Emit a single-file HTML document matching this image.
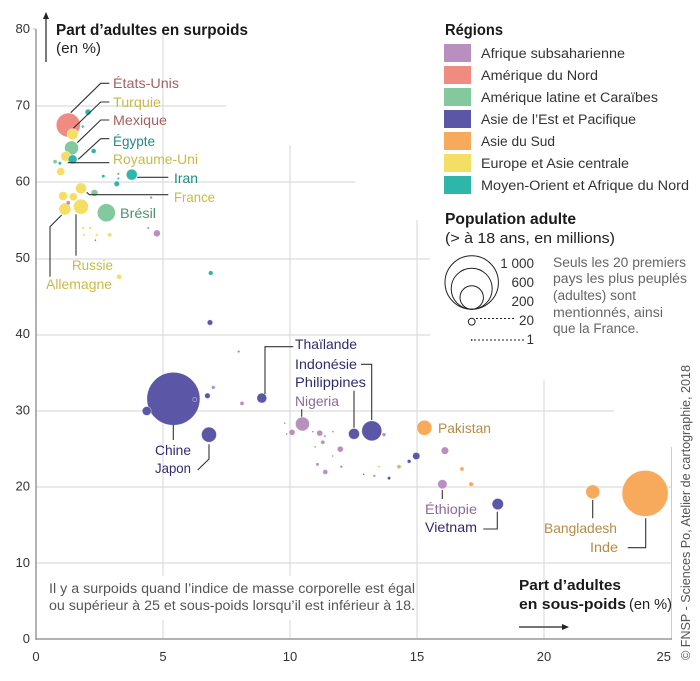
<!DOCTYPE html>
<html lang="fr">
<head>
<meta charset="utf-8">
<title>Surpoids et sous-poids</title>
<style>
html,body{margin:0;padding:0;background:#fff;}
svg{display:block;font-family:"Liberation Sans",sans-serif;}
.grid{stroke:#dcdcdc;stroke-width:1.2;fill:none;}
.lead{stroke:#333;stroke-width:1.1;fill:none;}
.lab{font-size:14px;}
.leg{font-size:13.5px;fill:#333;}
.tick{font-size:13px;fill:#333;}
</style>
</head>
<body>
<svg id="chart" width="700" height="681" viewBox="0 0 700 681" xmlns="http://www.w3.org/2000/svg">
  <g id="grid-layer">
    <line class="grid" x1="36" x2="226" y1="106" y2="106"/>
    <line class="grid" x1="36" x2="355" y1="182" y2="182"/>
    <line class="grid" x1="36" x2="430" y1="259" y2="259"/>
    <line class="grid" x1="36" x2="430" y1="335" y2="335"/>
    <line class="grid" x1="36" x2="614" y1="411" y2="411"/>
    <line class="grid" x1="36" x2="671" y1="487" y2="487"/>
    <line class="grid" x1="36" x2="671" y1="563" y2="563"/>
    <line class="grid" x1="163" x2="163" y1="35" y2="639"/>
    <line class="grid" x1="290" x2="290" y1="145" y2="639"/>
    <line class="grid" x1="417" x2="417" y1="220" y2="639"/>
    <line class="grid" x1="544" x2="544" y1="380" y2="639"/>
    <rect x="45" y="576" width="370" height="44" fill="#fff"/>
  </g>
  <line x1="36" x2="36" y1="29" y2="640" stroke="#999" stroke-width="1.5"/>
  <line x1="671.5" x2="671.5" y1="447" y2="640" stroke="#ccc" stroke-width="1"/>
  <line x1="36" x2="672" y1="639" y2="639" stroke="#999" stroke-width="1.5"/>
  <line x1="33" x2="36" y1="29" y2="29" stroke="#bbb" stroke-width="1"/>
  <g id="ticks-layer"></g>

  <path d="M46 62V18" stroke="#222" stroke-width="1.2" fill="none"/>
  <path d="M46 12l3 7h-6z" fill="#222"/>
  <path d="M519 627H563" stroke="#222" stroke-width="1.2" fill="none"/>
  <path d="M569 627l-7 3v-6z" fill="#222"/>

  <text x="56" y="35" font-size="16" font-weight="700" fill="#1a1a1a" textLength="192" lengthAdjust="spacingAndGlyphs">Part d’adultes en surpoids</text>
  <text x="56" y="53" font-size="15" fill="#222" textLength="45" lengthAdjust="spacingAndGlyphs">(en %)</text>
  <text x="519" y="590" font-size="15" font-weight="700" fill="#1a1a1a" textLength="102" lengthAdjust="spacingAndGlyphs">Part d’adultes</text>
  <text x="519" y="609" font-size="15" font-weight="700" fill="#1a1a1a" textLength="107" lengthAdjust="spacingAndGlyphs">en sous-poids</text>
  <text x="629" y="609" font-size="15" fill="#222" textLength="43" lengthAdjust="spacingAndGlyphs">(en %)</text>
  <text x="49" y="593" font-size="13.5" fill="#555" textLength="366" lengthAdjust="spacingAndGlyphs">Il y a surpoids quand l’indice de masse corporelle est égal</text>
  <text x="49" y="610" font-size="13.5" fill="#555" textLength="366" lengthAdjust="spacingAndGlyphs">ou supérieur à 25 et sous-poids lorsqu’il est inférieur à 18.</text>

  <g id="marks-layer"></g>

  <g>
    <polyline class="lead" points="70.7,112.7 100.7,83.3 109.3,83.3"/>
    <polyline class="lead" points="73.3,128.3 100.7,102 109.3,102"/>
    <polyline class="lead" points="77.3,142.7 100.7,120 109.3,120"/>
    <polyline class="lead" points="78.3,159.3 100.7,138.7 109.3,138.7"/>
    <polyline class="lead" points="67.7,162.7 109.3,162.7"/>
    <polyline class="lead" points="137.3,177.3 168.3,177.3"/>
    <polyline class="lead" points="86.7,192.3 89.3,194.7 168.3,194.7"/>
    <polyline class="lead" points="61.7,215 50,226.7 50,276.7"/>
    <polyline class="lead" points="76,214.3 76,255.7"/>
    <polyline class="lead" points="293.3,346.7 265,346.7 265,394"/>
    <polyline class="lead" points="361,364.3 371.7,364.3 371.7,420"/>
    <polyline class="lead" points="354,390.7 354,427.7"/>
    <polyline class="lead" points="301.7,409.3 301.7,416.7"/>
    <polyline class="lead" points="173.3,425 173.3,440"/>
    <polyline class="lead" points="209,444.3 209,459 197.7,470"/>
    <polyline class="lead" points="442.3,490 442.3,499"/>
    <polyline class="lead" points="483.3,529 497.3,529 497.3,511.7"/>
    <polyline class="lead" points="592.7,500 592.7,518.3"/>
    <polyline class="lead" points="645.7,518.3 645.7,547.7 627.7,547.7"/>
  </g>

  <g>
    <text class="lab" x="113" y="88" fill="#a5605f" textLength="66" lengthAdjust="spacingAndGlyphs">États-Unis</text>
    <text class="lab" x="113" y="107" fill="#c8bb45" textLength="48" lengthAdjust="spacingAndGlyphs">Turquie</text>
    <text class="lab" x="113" y="125" fill="#a5605f" textLength="54" lengthAdjust="spacingAndGlyphs">Mexique</text>
    <text class="lab" x="113" y="146" fill="#1d8c85" textLength="42" lengthAdjust="spacingAndGlyphs">Égypte</text>
    <text class="lab" x="113" y="164" fill="#c8bb45" textLength="85" lengthAdjust="spacingAndGlyphs">Royaume-Uni</text>
    <text class="lab" x="174" y="183" fill="#1d8c85" textLength="24" lengthAdjust="spacingAndGlyphs">Iran</text>
    <text class="lab" x="174" y="202" fill="#c8bb45" textLength="41" lengthAdjust="spacingAndGlyphs">France</text>
    <text class="lab" x="120" y="218" fill="#4f9070" textLength="36" lengthAdjust="spacingAndGlyphs">Brésil</text>
    <text class="lab" x="72" y="270" fill="#c8bb45" textLength="41" lengthAdjust="spacingAndGlyphs">Russie</text>
    <text class="lab" x="46" y="289" fill="#c8bb45" textLength="66" lengthAdjust="spacingAndGlyphs">Allemagne</text>
    <text class="lab" x="295" y="349" fill="#2f2c6e" textLength="62" lengthAdjust="spacingAndGlyphs">Thaïlande</text>
    <text class="lab" x="295" y="369" fill="#2f2c6e" textLength="62" lengthAdjust="spacingAndGlyphs">Indonésie</text>
    <text class="lab" x="295" y="387" fill="#2f2c6e" textLength="71" lengthAdjust="spacingAndGlyphs">Philippines</text>
    <text class="lab" x="295" y="406" fill="#8d6a96" textLength="44" lengthAdjust="spacingAndGlyphs">Nigeria</text>
    <text class="lab" x="155" y="455" fill="#2f2c6e" textLength="36" lengthAdjust="spacingAndGlyphs">Chine</text>
    <text class="lab" x="155" y="473" fill="#2f2c6e" textLength="36" lengthAdjust="spacingAndGlyphs">Japon</text>
    <text class="lab" x="438" y="433" fill="#b98a45" textLength="53" lengthAdjust="spacingAndGlyphs">Pakistan</text>
    <text class="lab" x="425" y="514" fill="#8d6a96" textLength="52" lengthAdjust="spacingAndGlyphs">Éthiopie</text>
    <text class="lab" x="425" y="532" fill="#2f2c6e" textLength="52" lengthAdjust="spacingAndGlyphs">Vietnam</text>
    <text class="lab" x="544" y="533" fill="#b98a45" textLength="73" lengthAdjust="spacingAndGlyphs">Bangladesh</text>
    <text class="lab" x="590" y="552" fill="#b98a45" textLength="28" lengthAdjust="spacingAndGlyphs">Inde</text>
  </g>

  <g>
    <text x="445" y="35" font-size="16" font-weight="700" fill="#1a1a1a" textLength="58" lengthAdjust="spacingAndGlyphs">Régions</text>
    <rect x="444" y="44" width="27" height="18" fill="#b98fc0"/>
    <text class="leg" x="481" y="58" textLength="144" lengthAdjust="spacingAndGlyphs">Afrique subsaharienne</text>
    <rect x="444" y="66" width="27" height="18" fill="#ef8b80"/>
    <text class="leg" x="481" y="80" textLength="117" lengthAdjust="spacingAndGlyphs">Amérique du Nord</text>
    <rect x="444" y="88" width="27" height="18" fill="#84c89e"/>
    <text class="leg" x="481" y="102" textLength="177" lengthAdjust="spacingAndGlyphs">Amérique latine et Caraïbes</text>
    <rect x="444" y="110" width="27" height="18" fill="#5b57a6"/>
    <text class="leg" x="481" y="124" textLength="155" lengthAdjust="spacingAndGlyphs">Asie de l’Est et Pacifique</text>
    <rect x="444" y="132" width="27" height="18" fill="#f7a95c"/>
    <text class="leg" x="481" y="146" textLength="74" lengthAdjust="spacingAndGlyphs">Asie du Sud</text>
    <rect x="444" y="154" width="27" height="18" fill="#f4de64"/>
    <text class="leg" x="481" y="168" textLength="148" lengthAdjust="spacingAndGlyphs">Europe et Asie centrale</text>
    <rect x="444" y="176" width="27" height="18" fill="#2fb6ab"/>
    <text class="leg" x="481" y="190" textLength="208" lengthAdjust="spacingAndGlyphs">Moyen-Orient et Afrique du Nord</text>
  </g>

  <g>
    <text x="445" y="224" font-size="16" font-weight="700" fill="#1a1a1a" textLength="131" lengthAdjust="spacingAndGlyphs">Population adulte</text>
    <text x="445" y="243" font-size="15" fill="#222" textLength="170" lengthAdjust="spacingAndGlyphs">(&gt; à 18 ans, en millions)</text>
    <circle cx="471.7" cy="282.5" r="26.7" fill="none" stroke="#222"/>
    <circle cx="471.7" cy="288.7" r="20.5" fill="none" stroke="#222"/>
    <circle cx="471.7" cy="297.5" r="11.7" fill="none" stroke="#222"/>
    <circle cx="471.7" cy="321.7" r="3.4" fill="none" stroke="#222"/>
    <circle cx="471.7" cy="340" r="0.9" fill="#222"/>
    <line x1="476" x2="514" y1="318.5" y2="318.5" stroke="#222" stroke-dasharray="2 2"/>
    <line x1="474" x2="525" y1="340" y2="340" stroke="#222" stroke-dasharray="2 2"/>
    <text class="leg" x="534" y="268" text-anchor="end">1 000</text>
    <text class="leg" x="534" y="287" text-anchor="end">600</text>
    <text class="leg" x="534" y="306" text-anchor="end">200</text>
    <text class="leg" x="534" y="325" text-anchor="end">20</text>
    <text class="leg" x="534" y="344" text-anchor="end">1</text>
    <text x="553" y="267" font-size="13.5" fill="#666" textLength="133" lengthAdjust="spacingAndGlyphs">Seuls les 20 premiers</text>
    <text x="553" y="283" font-size="13.5" fill="#666" textLength="134" lengthAdjust="spacingAndGlyphs">pays les plus peuplés</text>
    <text x="553" y="300" font-size="13.5" fill="#666" textLength="83" lengthAdjust="spacingAndGlyphs">(adultes) sont</text>
    <text x="553" y="317" font-size="13.5" fill="#666" textLength="110" lengthAdjust="spacingAndGlyphs">mentionnés, ainsi</text>
    <text x="553" y="333" font-size="13.5" fill="#666" textLength="86" lengthAdjust="spacingAndGlyphs">que la France.</text>
  </g>

  <text transform="translate(690,660) rotate(-90)" x="0" y="0" font-size="12.5" fill="#555" textLength="295" lengthAdjust="spacingAndGlyphs">© FNSP - Sciences Po, Atelier de cartographie, 2018</text>
</svg>
<script>
const xTicks = [0, 5, 10, 15, 20, 25];
const yTicks = [0, 10, 20, 30, 40, 50, 60, 70, 80];
const regionColors = ["#b98fc0", "#ef8b80", "#84c89e", "#5b57a6", "#f7a95c", "#f4de64", "#2fb6ab"];
const pointNames = ["etats-unis","turquie","mexique","egypte","royaume-uni","pays-a","pays-b","pays-c","pays-d","pays-e","pays-f","iran","pays-g","pays-h","pays-i","pays-j","france","pays-k","pays-l","pays-m","russie","allemagne","pays-n","bresil","pays-o","pays-p","pays-q","pays-r","pays-s","pays-t","pays-u","pays-v","pays-w","pays-x","pays-y","pays-z","pays-aa","chine","pays-ab","pays-ac","pays-ad","pays-ae","japon","thailande","pays-af","nigeria","pays-ag","pays-ah","pays-ai","pays-aj","pays-ak","pays-al","pays-am","pays-an","pays-ao","pays-ap","pays-aq","pays-ar","pays-as","pays-at","philippines","indonesie","pays-au","pays-av","pays-aw","pays-ax","pays-ay","pays-az","pays-ba","pakistan","pays-bb","pays-bc","pays-bd","ethiopie","pays-be","vietnam","bangladesh","inde"];
const pointX = [1.27,1.44,1.40,1.44,1.17,0.97,2.05,1.84,2.27,0.75,0.94,3.77,3.18,2.65,3.24,3.24,1.77,2.30,1.47,1.07,1.77,1.14,1.27,2.77,4.76,2.90,1.86,2.13,2.39,1.89,2.34,4.42,4.53,3.27,6.88,6.85,7.98,5.41,4.36,6.25,6.75,6.98,6.81,8.89,8.11,10.49,10.08,11.17,11.29,11.98,11.39,11.08,12.02,9.79,9.87,10.9,11.37,11.69,10.99,11.68,12.52,13.22,13.70,14.29,14.69,13.90,13.32,13.5,12.9,15.29,16.10,14.97,16.77,16.00,17.13,18.18,21.92,23.98];
const pointY = [67.4,66.2,64.4,62.9,63.3,61.3,69.1,67.2,64.0,62.6,62.4,60.9,59.7,60.7,61.0,60.4,59.1,58.5,58.0,58.1,56.7,56.4,57.2,55.9,53.2,53.0,53.9,53.9,53.0,53.0,52.3,53.9,57.9,47.5,48.0,41.5,37.7,31.5,29.9,31.4,31.9,33.0,26.8,31.6,30.9,28.2,27.1,27.0,25.8,24.9,21.9,22.9,22.6,28.3,26.9,27.2,26.6,27.2,25.2,24.0,26.9,27.3,26.8,22.6,23.3,21.1,21.4,22.6,21.6,27.7,24.7,24.0,22.3,20.3,20.3,17.7,19.3,19.1];
const pointPop = [204,43,69,29,35,23,13,2,9,6,3,43,11,3,1.4,1.4,43,17,23,29,80,51,6,115,17,6,2,2,2,1.4,0.7,1.4,2,9,7.5,11,2,995,29,6,11,5,80,35,6,69,13,13,6,13,9,3,2,1,1,1,1.4,1,1,1,43,142,5,6,5,3,2,1,0.7,80,20,19,6,31,7.5,46,69,750];
const pointRegion = [1,5,2,6,5,5,6,6,6,2,6,6,6,6,6,6,5,2,5,5,5,5,0,2,0,5,5,5,5,5,3,0,0,5,6,3,0,3,3,3,3,0,3,3,0,0,0,0,0,0,0,0,0,0,0,0,0,0,0,0,3,3,0,4,3,3,0,4,3,4,0,3,4,0,4,3,4,4];

const NS = "http://www.w3.org/2000/svg";
function xScale(v) { return 36 + v * 25.4; }
function yScale(v) { return 639 - v * 7.625; }
function rScale(v) { return 0.84 * Math.sqrt(v); }

const ticksLayer = document.getElementById("ticks-layer");
xTicks.forEach(function (t, i) {
  const el = document.createElementNS(NS, "text");
  
  
  el.setAttribute("class", "tick");
  el.setAttribute("x", xScale(t));
  el.setAttribute("y", 661);
  el.setAttribute("text-anchor", i === xTicks.length - 1 ? "end" : "middle");
  el.textContent = t;
  ticksLayer.appendChild(el);
});
yTicks.forEach(function (t) {
  const el = document.createElementNS(NS, "text");
  
  
  el.setAttribute("class", "tick");
  el.setAttribute("x", 30);
  el.setAttribute("y", yScale(t) + 4);
  el.setAttribute("text-anchor", "end");
  el.textContent = t;
  ticksLayer.appendChild(el);
});

const marksLayer = document.getElementById("marks-layer");
const order = pointX.map(function (_, i) { return i; }).sort(function (a, b) { return pointPop[b] - pointPop[a]; });
order.forEach(function (i) {
  const c = document.createElementNS(NS, "circle");
  
  
  c.setAttribute("cx", xScale(pointX[i]));
  c.setAttribute("cy", yScale(pointY[i]));
  c.setAttribute("r", rScale(pointPop[i]));
  c.setAttribute("fill", regionColors[pointRegion[i]]);
  c.setAttribute("stroke", "#fff");
  c.setAttribute("stroke-opacity", "0.55");
  c.setAttribute("stroke-width", pointPop[i] < 4 ? "0" : "0.7");
  marksLayer.appendChild(c);
});
</script>
</body>
</html>
